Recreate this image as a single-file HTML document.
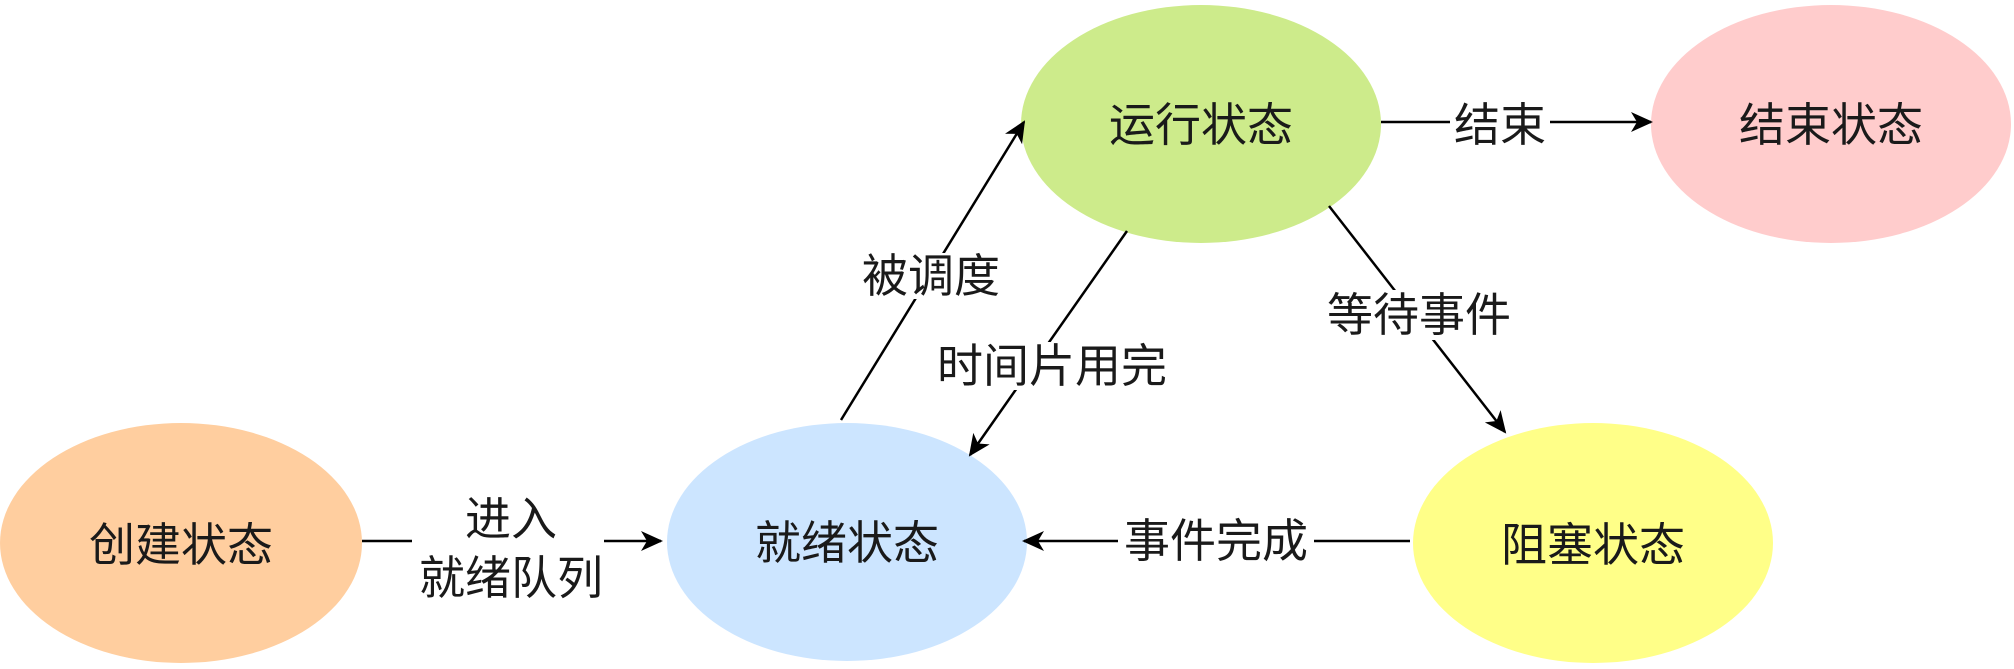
<!DOCTYPE html>
<html><head><meta charset="utf-8"><style>
html,body{margin:0;padding:0;background:#fff;}
svg text{font-family:"Liberation Sans","Noto Sans CJK SC",sans-serif;font-size:46px;fill:#1a1a1a;text-anchor:middle;dominant-baseline:central;}
</style></head><body>
<svg width="2014" height="664" viewBox="0 0 2014 664" xmlns="http://www.w3.org/2000/svg">
<defs>
<marker id="a" markerWidth="12" markerHeight="12" refX="10" refY="6" orient="auto" markerUnits="userSpaceOnUse" viewBox="0 0 12 12">
<path d="M0,0 L12,6 L0,12 L3,6 Z" fill="#000"/>
</marker>
<marker id="b" markerWidth="24" markerHeight="24" refX="20" refY="12" orient="auto" markerUnits="userSpaceOnUse" viewBox="0 0 24 24">
<path d="M0,2 L22,12 L0,22 L6,12 Z" fill="#000"/>
</marker>
</defs>
<ellipse cx="181" cy="543" rx="181" ry="120" fill="#FFCE9F"/>
<ellipse cx="847" cy="542" rx="180" ry="119" fill="#CCE5FF"/>
<ellipse cx="1201" cy="124" rx="180" ry="119" fill="#CDEB8B"/>
<ellipse cx="1831" cy="124" rx="180" ry="119" fill="#FFCCCC"/>
<ellipse cx="1593" cy="543" rx="180" ry="120" fill="#FFFF88"/>
<g stroke="#000" stroke-width="2.5" fill="none">
<line x1="362" y1="541" x2="412" y2="541"/>
<line x1="604" y1="541" x2="661" y2="541" marker-end="url(#b)"/>
<line x1="841" y1="420" x2="1024" y2="122" marker-end="url(#b)"/>
<line x1="1127" y1="231" x2="970" y2="455" marker-end="url(#b)"/>
<line x1="1381" y1="122" x2="1651" y2="122" marker-end="url(#b)"/>
<line x1="1329" y1="206" x2="1505" y2="432" marker-end="url(#b)"/>
<line x1="1410" y1="541" x2="1024" y2="541" marker-end="url(#b)"/>
</g>
<g fill="#fff">
<rect x="860" y="253" width="142" height="46"/>
<rect x="932" y="342" width="240" height="48"/>
<rect x="1450" y="100" width="100" height="48"/>
<rect x="1320" y="290" width="200" height="50"/>
<rect x="1118" y="516" width="196" height="50"/>
</g>
<text x="181" y="545">创建状态</text>
<text x="847" y="543">就绪状态</text>
<text x="1201" y="125">运行状态</text>
<text x="1831" y="125">结束状态</text>
<text x="1593" y="545">阻塞状态</text>
<text x="511" y="519">进入</text>
<text x="511" y="578">就绪队列</text>
<text x="931" y="276">被调度</text>
<text x="1052" y="366">时间片用完</text>
<text x="1500" y="125">结束</text>
<text x="1419" y="315">等待事件</text>
<text x="1216" y="541">事件完成</text>
</svg>
</body></html>
